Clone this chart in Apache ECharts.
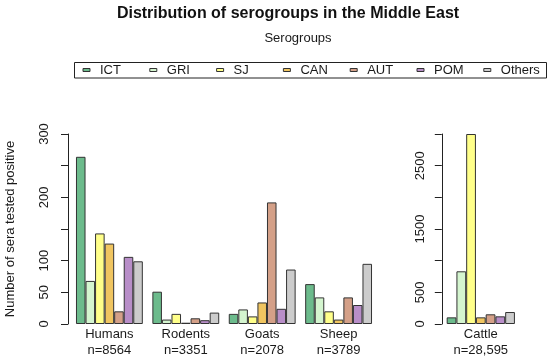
<!DOCTYPE html>
<html>
<head>
<meta charset="utf-8">
<script src="https://cdn.jsdelivr.net/npm/echarts@6/dist/echarts.min.js"></script>
<style>
html,body{margin:0;padding:0;background:#fff;}
#chart{width:550px;height:363px;}
</style>
</head>
<body>
<div id="chart"></div>
<script>
// ---- data ----
const hostsLeft = ['Humans', 'Rodents', 'Goats', 'Sheep'];
const nLeft = ['n=8564', 'n=3351', 'n=2078', 'n=3789'];
const hostsRight = ['Cattle'];
const nRight = ['n=28,595'];
const serogroups = ['ICT', 'GRI', 'SJ', 'CAN', 'AUT', 'POM', 'Others'];
// values per serogroup: Humans, Rodents, Goats, Sheep, Cattle
const ICT    = [264, 51, 16, 63, 105];
const GRI    = [68, 7, 23, 42, 832];
const SJ     = [143, 16, 12, 20, 3000];
const CAN    = [127, 2, 34, 7, 105];
const AUT    = [20, 9, 192, 42, 153];
const POM    = [106, 6, 24, 30, 121];
const Others = [99, 18, 86, 95, 189];
const leftTickLabels = [0, 50, 100, 200, 300];
const rightTickLabels = [0, 500, 1500, 2500];

const values = [ICT, GRI, SJ, CAN, AUT, POM, Others];
const colors = ['#6cbb8c', '#d4f5cf', '#ffff8a', '#f0c560', '#d4a088', '#b88ec8', '#cccccc'];
const font = 'Liberation Sans, Arial, sans-serif';

const chart = echarts.init(document.getElementById('chart'), null, {renderer: 'canvas'});

const series = [];
serogroups.forEach((name, i) => {
  const common = {
    name: name, type: 'bar', barGap: 0, barCategoryGap: '12.5%',
    itemStyle: {color: colors[i], borderColor: '#333', borderWidth: 1},
    emphasis: {disabled: true}, animation: false
  };
  series.push(Object.assign({}, common, {xAxisIndex: 0, yAxisIndex: 0, data: values[i].slice(0, 4)}));
  series.push(Object.assign({}, common, {xAxisIndex: 1, yAxisIndex: 1, data: values[i].slice(4)}));
});

const legends = serogroups.map((name, i) => ({
  data: [name], left: 82.5 + i * 66.8, top: 63.5, padding: 0,
  itemWidth: 7, itemHeight: 3, icon: 'rect',
  itemStyle: {borderColor: '#333', borderWidth: 1},
  textStyle: {fontFamily: font, fontSize: 13, color: '#1a1a1a', padding: [0, 0, 0, 5]},
  selectedMode: false
}));

const axisCommonY = {
  type: 'value', min: 0,
  axisLine: {show: true, lineStyle: {color: '#222', width: 1}},
  axisTick: {show: true, length: 7, lineStyle: {color: '#222'}},
  splitLine: {show: false}
};

chart.setOption({
  animation: false,
  backgroundColor: '#fff',
  title: [
    {text: 'Distribution of serogroups in the Middle East', left: 283, textAlign: 'center', top: 1,
     textStyle: {fontFamily: font, fontSize: 16, fontWeight: 'bold', color: '#111'}},
    {text: 'Serogroups', left: 293, textAlign: 'center', top: 27,
     textStyle: {fontFamily: font, fontSize: 13, fontWeight: 'normal', color: '#1a1a1a'}}
  ],
  legend: legends,
  graphic: [{type: 'rect', shape: {x: 74.5, y: 62.5, width: 472, height: 15.5},
             style: {fill: 'none', stroke: '#222', lineWidth: 1}, silent: true}],
  grid: [
    {left: 71.2, top: 134, width: 305.6, height: 190, containLabel: false, outerBoundsMode: 'none'},
    {left: 441.8, top: 134, width: 78, height: 190, containLabel: false, outerBoundsMode: 'none'}
  ],
  xAxis: [
    {type: 'category', gridIndex: 0, data: hostsLeft,
     axisLine: {show: false}, axisTick: {show: false},
     axisLabel: {interval: 0, margin: 2, lineHeight: 16, fontFamily: font, fontSize: 13, color: '#1a1a1a',
                 formatter: (v, i) => v + '\n' + nLeft[i]}},
    {type: 'category', gridIndex: 1, data: hostsRight,
     axisLine: {show: false}, axisTick: {show: false},
     axisLabel: {interval: 0, margin: 2, lineHeight: 16, fontFamily: font, fontSize: 13, color: '#1a1a1a',
                 formatter: (v, i) => v + '\n' + nRight[i]}}
  ],
  yAxis: [
    Object.assign({}, axisCommonY, {gridIndex: 0, max: 300, interval: 50, offset: 3.2,
      name: 'Number of sera tested positive', nameLocation: 'middle', nameGap: 51,
      nameTextStyle: {fontFamily: font, fontSize: 13, color: '#1a1a1a'},
      axisLabel: {rotate: 90, margin: 17, fontFamily: font, fontSize: 13, color: '#1a1a1a',
                  formatter: v => leftTickLabels.includes(v) ? String(v) : ''}}),
    Object.assign({}, axisCommonY, {gridIndex: 1, max: 3000, interval: 500,
      axisLabel: {rotate: 90, margin: 15, fontFamily: font, fontSize: 13, color: '#1a1a1a',
                  formatter: v => rightTickLabels.includes(v) ? String(v) : ''}})
  ],
  series: series
});
</script>
</body>
</html>
